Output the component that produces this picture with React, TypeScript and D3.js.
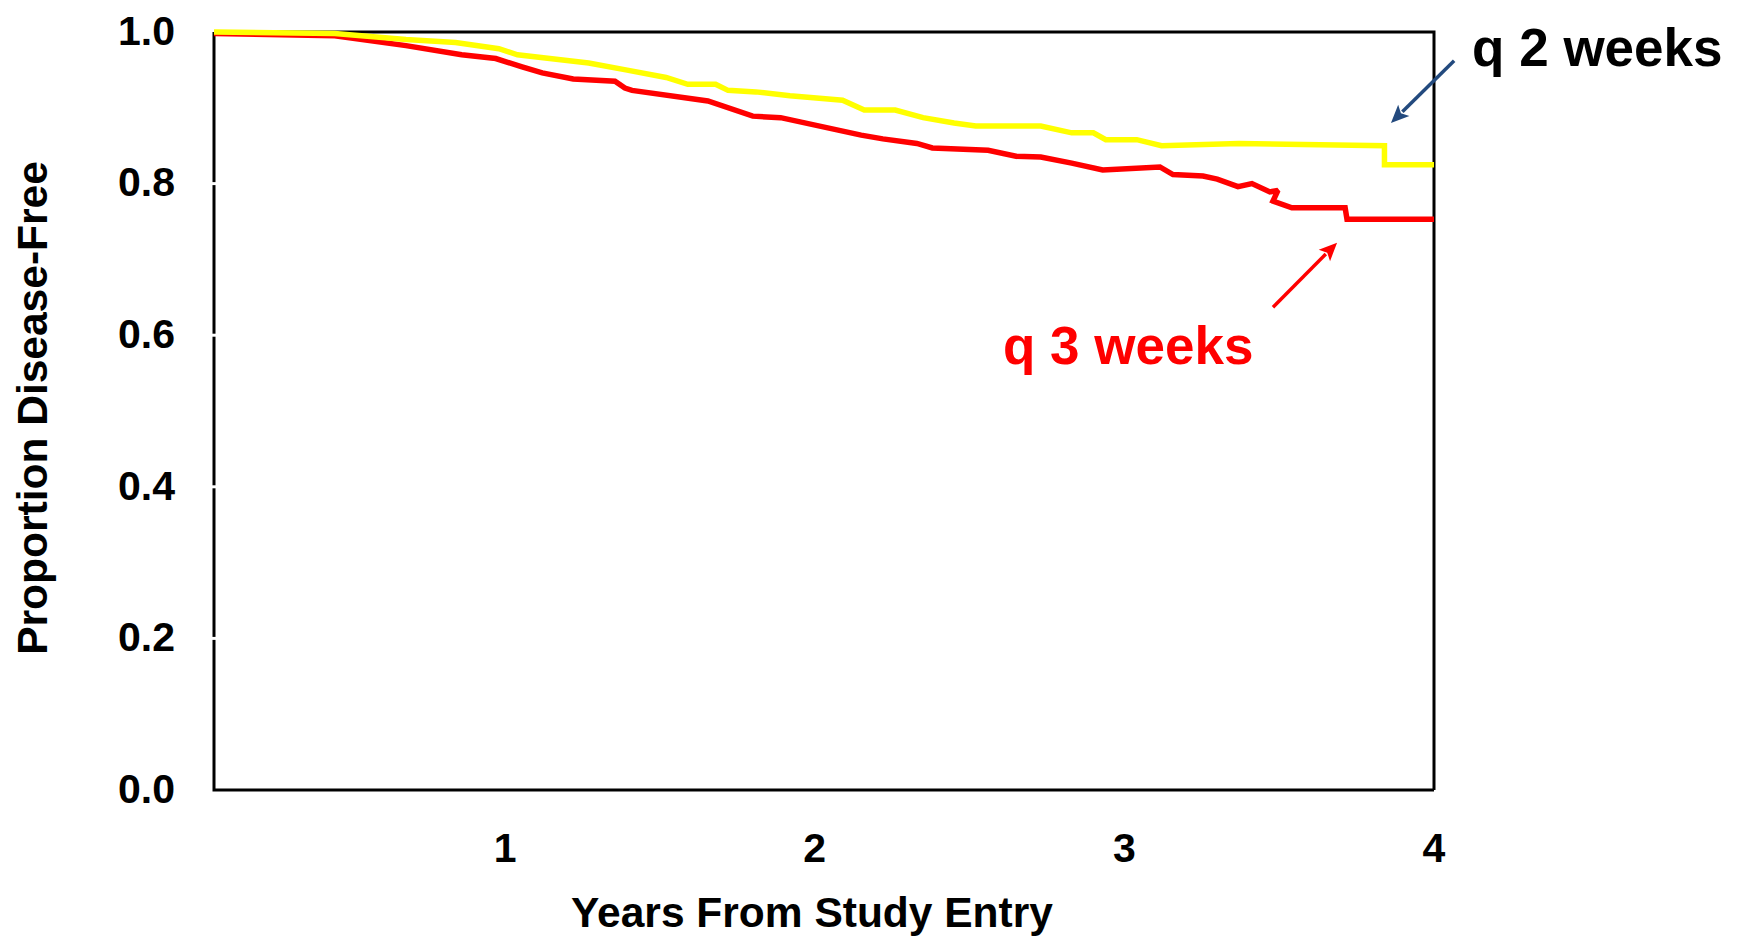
import React, { useEffect, useRef } from "react";
import * as d3 from "d3";

// q 2 weeks (yellow) curve
const q2Years = [0.06, 0.45, 0.68, 0.84, 0.98, 1.04, 1.27, 1.39, 1.52, 1.59, 1.68, 1.72, 1.81, 1.92, 2.09, 2.16, 2.26, 2.35, 2.45, 2.52, 2.73, 2.83, 2.9, 2.94, 3.04, 3.12, 3.37, 3.84, 3.84, 4.0];
const q2Proportion = [1.0, 0.998, 0.99, 0.986, 0.978, 0.97, 0.959, 0.95, 0.94, 0.931, 0.931, 0.923, 0.921, 0.916, 0.91, 0.897, 0.897, 0.887, 0.88, 0.876, 0.876, 0.867, 0.867, 0.858, 0.858, 0.85, 0.853, 0.85, 0.825, 0.825];

// q 3 weeks (red) curve
const q3Years = [0.06, 0.45, 0.68, 0.86, 0.97, 1.055, 1.12, 1.22, 1.355, 1.387, 1.41, 1.655, 1.8, 1.89, 2.15, 2.22, 2.33, 2.38, 2.56, 2.65, 2.73, 2.83, 2.93, 3.115, 3.157, 3.254, 3.3, 3.367, 3.412, 3.47, 3.496, 3.48, 3.541, 3.713, 3.719, 4.0];
const q3Proportion = [0.998, 0.995, 0.982, 0.97, 0.965, 0.954, 0.946, 0.938, 0.935, 0.926, 0.923, 0.909, 0.889, 0.887, 0.864, 0.859, 0.853, 0.847, 0.844, 0.836, 0.835, 0.827, 0.818, 0.822, 0.812, 0.81, 0.806, 0.796, 0.8, 0.789, 0.791, 0.777, 0.768, 0.768, 0.753, 0.753];

const yTicks = [0, 0.2, 0.4, 0.6, 0.8, 1.0];
const xTicks = [1, 2, 3, 4];

const FONT = "'Liberation Sans', Arial, sans-serif";

const App = () => {
  const ref = useRef<SVGSVGElement>(null);

  useEffect(() => {
    const svg = d3.select(ref.current);
    svg.selectAll("*").remove();

    // the axis starts a little after 0 in the original slide
    const x = d3.scaleLinear().domain([0.06, 4]).range([214, 1434]);
    const y = d3.scaleLinear().domain([0, 1]).range([790, 32]);

    // frame
    const frame = svg.append("g").attr("stroke", "#000").attr("stroke-width", 3).attr("fill", "none");
    frame.append("path")
      .attr("d", `M${x(0.06)},${y(1)}H${x(4)}V${y(0)}`);
    frame.append("path")
      .attr("d", `M${x(0.06)},${y(1)}V${y(0)}H${x(4)}`);

    // white notches where ticks sit
    svg.append("g").selectAll("line.yt")
      .data(yTicks.filter(d => d > 0 && d < 1))
      .join("line")
      .attr("x1", x(0.06) - 2).attr("x2", x(0.06) + 2)
      .attr("y1", d => y(d)).attr("y2", d => y(d))
      .attr("stroke", "#fff").attr("stroke-width", 3);

    // y tick labels
    svg.append("g")
      .selectAll("text")
      .data(yTicks)
      .join("text")
      .attr("x", 175)
      .attr("y", d => y(d) - 2)
      .attr("dy", "0.36em")
      .attr("text-anchor", "end")
      .style("font", `bold 41px ${FONT}`)
      .text(d => d3.format(".1f")(d));

    // x tick labels
    svg.append("g")
      .selectAll("text")
      .data(xTicks)
      .join("text")
      .attr("x", d => x(d))
      .attr("y", 862)
      .attr("text-anchor", "middle")
      .style("font", `bold 41px ${FONT}`)
      .text(d => d);

    // axis titles
    svg.append("text")
      .attr("x", 812)
      .attr("y", 927)
      .attr("text-anchor", "middle")
      .style("font", `bold 42.5px ${FONT}`)
      .text("Years From Study Entry");

    svg.append("text")
      .attr("transform", "translate(47,408) rotate(-90)")
      .attr("text-anchor", "middle")
      .style("font", `bold 42.5px ${FONT}`)
      .text("Proportion Disease-Free");

    const line = d3.line<[number, number]>()
      .x(d => x(d[0]))
      .y(d => y(d[1]));

    svg.append("path")
      .datum(q3Years.map((t, i) => [t, q3Proportion[i]] as [number, number]))
      .attr("d", line)
      .attr("fill", "none")
      .attr("stroke", "#ff0000")
      .attr("stroke-width", 5.5)
      .attr("stroke-miterlimit", 2);

    svg.append("path")
      .datum(q2Years.map((t, i) => [t, q2Proportion[i]] as [number, number]))
      .attr("d", line)
      .attr("fill", "none")
      .attr("stroke", "#ffff00")
      .attr("stroke-width", 5.5)
      .attr("stroke-miterlimit", 2);

    // annotation arrows
    const arrow = (from: [number, number], to: [number, number], color: string) => {
      const x1 = x(from[0]), y1 = y(from[1]);
      const x2 = x(to[0]), y2 = y(to[1]);
      const len = Math.hypot(x2 - x1, y2 - y1);
      const ux = (x2 - x1) / len, uy = (y2 - y1) / len;
      const hl = 18, hw = 8;
      const bx = x2 - ux * hl, by = y2 - uy * hl;
      svg.append("line")
        .attr("x1", x1).attr("y1", y1).attr("x2", bx + ux * 2).attr("y2", by + uy * 2)
        .attr("stroke", color).attr("stroke-width", 3.5);
      svg.append("path")
        .attr("d", `M${x2},${y2}L${bx - uy * hw},${by + ux * hw}L${bx + ux * 4},${by + uy * 4}L${bx + uy * hw},${by - ux * hw}Z`)
        .attr("fill", color);
    };
    arrow([4.065, 0.962], [3.861, 0.88], "#234a7e");
    arrow([3.48, 0.637], [3.687, 0.722], "#ff0000");

    svg.append("text")
      .attr("x", x(4.123))
      .attr("y", y(0.955))
      .style("font", `bold 53px ${FONT}`)
      .attr("fill", "#000")
      .text("q 2 weeks");

    svg.append("text")
      .attr("x", x(2.608))
      .attr("y", y(0.562))
      .style("font", `bold 53px ${FONT}`)
      .attr("fill", "#ff0000")
      .text("q 3 weeks");
  }, []);

  return (
    <svg
      ref={ref}
      width={1738}
      height={939}
      style={{ position: "absolute", left: 0, top: 0, background: "#fff" }}
    />
  );
};

export default App;
